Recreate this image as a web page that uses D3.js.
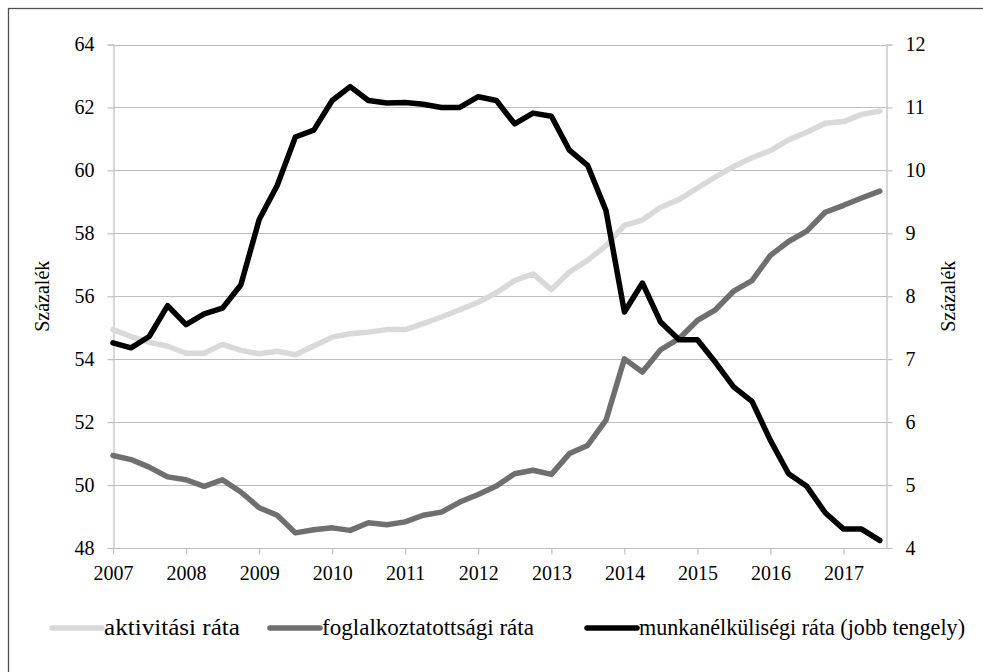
<!DOCTYPE html>
<html>
<head>
<meta charset="utf-8">
<script src="https://cdn.jsdelivr.net/npm/d3@7"></script>
<style>
  body { margin: 0; background: #fff; }
  svg text { font-family: "Liberation Serif", "Times New Roman", "DejaVu Serif", serif; }
  .tick-label { font-size: 20px; fill: #000; }
  .axis-title { font-size: 20px; fill: #000; }
  .legend-label { font-size: 23px; fill: #000; }
</style>
</head>
<body>
<div id="svg-container"></div>
<script>
////////////////////////////////////////////////////////////////////
////////////////////////////  Data  ////////////////////////////////
const quarters = [
  "2007-01", "2007-04", "2007-07", "2007-10",
  "2008-01", "2008-04", "2008-07", "2008-10",
  "2009-01", "2009-04", "2009-07", "2009-10",
  "2010-01", "2010-04", "2010-07", "2010-10",
  "2011-01", "2011-04", "2011-07", "2011-10",
  "2012-01", "2012-04", "2012-07", "2012-10",
  "2013-01", "2013-04", "2013-07", "2013-10",
  "2014-01", "2014-04", "2014-07", "2014-10",
  "2015-01", "2015-04", "2015-07", "2015-10",
  "2016-01", "2016-04", "2016-07", "2016-10",
  "2017-01", "2017-04", "2017-07"
];

// aktivitási ráta (bal tengely)
const aktivitasi = [
  54.94, 54.72, 54.54, 54.41, 54.19, 54.19, 54.47, 54.28,
  54.17, 54.25, 54.14, 54.42, 54.70, 54.81, 54.86, 54.94,
  54.94, 55.13, 55.34, 55.57, 55.81, 56.11, 56.50, 56.71,
  56.21, 56.77, 57.14, 57.61, 58.25, 58.42, 58.83, 59.07,
  59.44, 59.79, 60.12, 60.40, 60.63, 60.97, 61.21, 61.50,
  61.55, 61.78, 61.88
];

// foglalkoztatottsági ráta (bal tengely)
const foglalkoztatottsagi = [
  50.94, 50.81, 50.57, 50.26, 50.17, 49.96, 50.17, 49.78,
  49.28, 49.04, 48.48, 48.58, 48.64, 48.56, 48.80, 48.74,
  48.83, 49.04, 49.14, 49.46, 49.70, 49.97, 50.36, 50.47,
  50.34, 51.00, 51.26, 52.06, 54.01, 53.59, 54.30, 54.65,
  55.23, 55.57, 56.16, 56.50, 57.30, 57.74, 58.07, 58.67,
  58.89, 59.12, 59.34
];

// munkanélküliségi ráta (jobb tengely)
const munkanelkuliseg = [
  7.26, 7.18, 7.36, 7.85, 7.55, 7.72, 7.81, 8.18,
  9.22, 9.76, 10.53, 10.64, 11.11, 11.33, 11.11, 11.07,
  11.08, 11.05, 11.00, 11.00, 11.17, 11.11, 10.74, 10.91,
  10.86, 10.32, 10.08, 9.36, 7.75, 8.21, 7.59, 7.31,
  7.31, 6.95, 6.56, 6.33, 5.71, 5.18, 4.98, 4.56,
  4.30, 4.30, 4.12
];

const years = [2007, 2008, 2009, 2010, 2011, 2012, 2013, 2014, 2015, 2016, 2017];
const leftTicks = [48, 50, 52, 54, 56, 58, 60, 62, 64];
const rightTicks = [4, 5, 6, 7, 8, 9, 10, 11, 12];

const seriesNames = [
  "aktivitási ráta",
  "foglalkoztatottsági ráta",
  "munkanélküliségi ráta (jobb tengely)"
];

////////////////////////////////////////////////////////////////////
////////////////////////////  Init  ////////////////////////////////
const width = 983;
const height = 672;
const margin = { top: 44.5, right: 97, bottom: 124, left: 113 };
const serif = "'Liberation Serif', 'Times New Roman', 'DejaVu Serif', serif";

const svg = d3.select("#svg-container").append("svg")
  .attr("width", width)
  .attr("height", height)
  .style("display", "block");

// outer frame (cut at the right and bottom like the reference)
svg.append("rect")
  .attr("x", 8.5)
  .attr("y", 8.5)
  .attr("width", width + 20)
  .attr("height", height + 20)
  .attr("fill", "none")
  .attr("stroke", "#505050")
  .attr("stroke-width", 1.3);

const parseMonth = d3.timeParse("%Y-%m");
const dates = quarters.map(parseMonth);

// scale
const xScale = d3.scaleTime()
  .domain([new Date(2007, 0, 1), new Date(2017, 7, 1)])
  .range([margin.left, width - margin.right]);

const yLeft = d3.scaleLinear()
  .domain([48, 64])
  .range([height - margin.bottom, margin.top]);

const yRight = d3.scaleLinear()
  .domain([4, 12])
  .range([height - margin.bottom, margin.top]);

const gridColor = "#bfbfbf";

// gridlines
svg.append("g")
  .attr("class", "grid")
  .selectAll("line")
  .data(leftTicks)
  .enter()
  .append("line")
  .attr("x1", margin.left)
  .attr("x2", width - margin.right)
  .attr("y1", (d) => Math.round(yLeft(d)) + 0.5)
  .attr("y2", (d) => Math.round(yLeft(d)) + 0.5)
  .attr("stroke", gridColor)
  .attr("stroke-width", 1.2);

// axes
const xAxis = d3.axisBottom(xScale)
  .tickValues(years.map((y) => new Date(y, 0, 1)))
  .tickFormat(d3.timeFormat("%Y"))
  .tickSize(6)
  .tickPadding(11);

const leftAxis = d3.axisLeft(yLeft)
  .tickValues(leftTicks)
  .tickSize(6)
  .tickPadding(13);

const rightAxis = d3.axisRight(yRight)
  .tickValues(rightTicks)
  .tickSize(6)
  .tickPadding(13);

function styleAxis(g) {
  g.attr("font-family", serif).attr("font-size", 20);
  g.select(".domain").attr("stroke", gridColor).attr("stroke-width", 1.2);
  g.selectAll(".tick line").attr("stroke", gridColor).attr("stroke-width", 1.2);
  g.selectAll(".tick text").attr("class", "tick-label");
}

svg.append("g")
  .attr("transform", `translate(0,${Math.round(yLeft(48)) + 0.5})`)
  .call(xAxis)
  .call(styleAxis)
  .call((g) => g.select(".domain").attr("d", `M${margin.left},0H${width - margin.right}`));

svg.append("g")
  .attr("transform", `translate(${margin.left + 0.5},0)`)
  .call(leftAxis)
  .call(styleAxis);

svg.append("g")
  .attr("transform", `translate(${width - margin.right + 0.5},0)`)
  .call(rightAxis)
  .call(styleAxis);

// axis titles
const midY = (margin.top + height - margin.bottom) / 2;

svg.append("text")
  .attr("class", "axis-title")
  .attr("font-family", serif)
  .attr("transform", `translate(49,${midY}) rotate(-90)`)
  .attr("text-anchor", "middle")
  .text("Százalék");

svg.append("text")
  .attr("class", "axis-title")
  .attr("font-family", serif)
  .attr("transform", `translate(955,${midY}) rotate(-90)`)
  .attr("text-anchor", "middle")
  .text("Százalék");

// lines
const lineLeft = d3.line()
  .x((d, i) => xScale(dates[i]))
  .y((d) => yLeft(d));

const lineRight = d3.line()
  .x((d, i) => xScale(dates[i]))
  .y((d) => yRight(d));

const colors = ["#d9d9d9", "#6f6f6f", "#000000"];

const seriesPaths = [
  lineLeft(aktivitasi),
  lineLeft(foglalkoztatottsagi),
  lineRight(munkanelkuliseg)
];

svg.append("g")
  .selectAll("path")
  .data(seriesPaths)
  .enter()
  .append("path")
  .attr("d", (d) => d)
  .attr("fill", "none")
  .attr("stroke", (d, i) => colors[i])
  .attr("stroke-width", 5.5)
  .attr("stroke-linejoin", "round")
  .attr("stroke-linecap", "round");

// legend: swatch start and text width per entry, as laid out in the original
const legendLayout = [
  { x: 52, textWidth: 136 },
  { x: 270, textWidth: 212 },
  { x: 587, textWidth: 326 }
];
const legend = svg.append("g").attr("class", "legend");
const legendY = 628;

seriesNames.forEach((name, i) => {
  const x0 = legendLayout[i].x;

  legend.append("line")
    .attr("x1", x0)
    .attr("x2", x0 + 50)
    .attr("y1", legendY)
    .attr("y2", legendY)
    .attr("stroke", colors[i])
    .attr("stroke-width", 5.5)
    .attr("stroke-linecap", "round");

  legend.append("text")
    .attr("class", "legend-label")
    .attr("font-family", serif)
    .attr("x", x0 + 52)
    .attr("y", legendY + 7)
    .attr("textLength", legendLayout[i].textWidth)
    .attr("lengthAdjust", "spacingAndGlyphs")
    .text(name);
});
</script>
</body>
</html>
